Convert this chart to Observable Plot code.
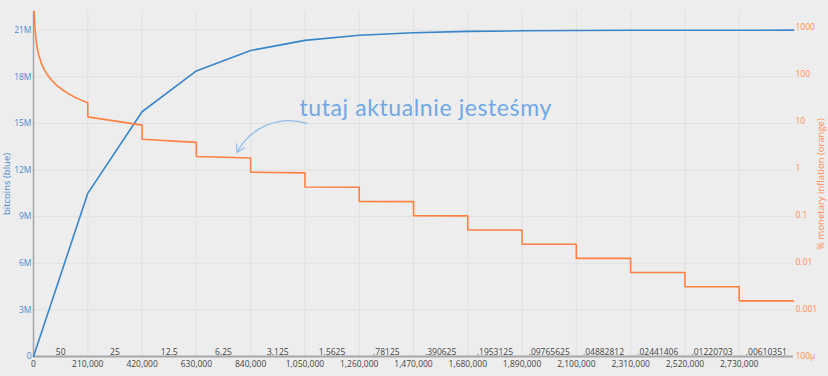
<!DOCTYPE html>
<html><head><meta charset="utf-8">
<script src="https://cdn.jsdelivr.net/npm/d3@7"></script>
<script src="https://cdn.jsdelivr.net/npm/@observablehq/plot@0.6"></script>
<style>
body{margin:0;background:#ededed;}
#wrap{position:relative;width:828px;height:376px;background:#ededed;}
#wrap svg{position:absolute;left:0;top:0;}
</style></head><body><div id="wrap"></div>
<script>
// block heights at each halving and cumulative bitcoin supply
const halvingHeights = [0,210000,420000,630000,840000,1050000,1260000,1470000,1680000,1890000,2100000,2310000,2520000,2730000,2940000];
const supply = [0,10500000,15750000,18375000,19687500,20343750,20671875,20835938,20917969,20958984,20979492,20989746,20994873,20997437,20998718];
// monetary inflation (%)
const inflHeight = [2400,5000,10000,15000,20000,30000,40000,55000,70000,90000,110000,135000,160000,185000,210000,
  210000,420000,420000,630000,630000,840000,840000,1050000,1050000,1260000,1260000,1470000,1470000,1680000,1680000,1890000,1890000,2100000,2100000,2310000,2310000,2520000,2520000,2730000,2730000,2940000];
const inflPct = [2190,1051,525.6,350.4,262.8,175.2,131.4,95.6,75.1,58.4,47.8,38.9,32.85,28.4,25.03,
  12.51,8.34,4.17,3.58,1.79,1.67,0.834,0.807,0.404,0.397,0.1986,0.1971,0.0985,0.0982,0.0491,0.049,0.02449,0.02447,0.01223,0.01223,0.006113,0.006112,0.003056,0.003056,0.001528,0.001528];
// block reward per era
const rewardLabels = ["50","25","12.5","6.25","3.125","1.5625",".78125",".390625",".1953125",".09765625",".04882812",".02441406",".01220703",".00610351"];
const xTicks = [0,210000,420000,630000,840000,1050000,1260000,1470000,1680000,1890000,2100000,2310000,2520000,2730000];
const leftTicks = [0,3e6,6e6,9e6,12e6,15e6,18e6,21e6];
const leftTickLabels = ["0","3M","6M","9M","12M","15M","18M","21M"];
const rightTicks = [1e-4,1e-3,1e-2,1e-1,1,10,100,1000];
const rightTickLabels = ["100µ","0.001","0.01","0.1","1","10","100","1000"];
// annotation
const noteText = ["tutaj aktualnie jesteśmy"];
const noteX = [1517000];
const noteY = [15.97e6];
const arrowX = [1057700, 787500];
const arrowY = [15.0e6, 13.13e6];

const W = 828, H = 376;
const margins = {marginLeft:33, marginRight:35, marginTop:11, marginBottom:20};
const BLUE = "#3885c9", ORANGE = "#ff8040";
const BLUE_TXT = "#4a8ad0", ORANGE_TXT = "#ff8a52";

const blueData = halvingHeights.map((h,i)=>({h, s: supply[i]}));
const orangeData = inflHeight.map((h,i)=>({h, p: inflPct[i]}));
const rewardData = rewardLabels.map((t,i)=>({t, x:(halvingHeights[i]+halvingHeights[i+1])/2}));

const p1 = Plot.plot({
  width: W, height: H, ...margins,
  style: {background:"transparent", fontFamily:"Open Sans", fontSize:"8.5px", color:"#444"},
  x: {domain:[0,2940000]},
  y: {domain:[0,22.2e6]},
  marks: [
    Plot.gridX(xTicks.slice(1), {stroke:"#e0e0e0", strokeOpacity:1, strokeWidth:1}),
    Plot.gridY(leftTicks.slice(1), {stroke:"#e0e0e0", strokeOpacity:1, strokeWidth:1}),
    Plot.axisX({ticks:xTicks, tickFormat:d3.format(","), tickSize:0, tickPadding:4, label:null, fill:"#444"}),
    Plot.axisY({ticks:leftTicks, tickFormat:(d)=>leftTickLabels[leftTicks.indexOf(d)], tickSize:0, tickPadding:2,
      label:"bitcoins (blue)", labelAnchor:"center", labelOffset:30, labelArrow:"none", fill:BLUE_TXT}),
    Plot.ruleX([0], {stroke:"#a6a6a6", strokeWidth:1.5}),
    Plot.ruleY([0], {stroke:"#a6a6a6", strokeWidth:2}),
    Plot.text(rewardData, {x:"x", y:()=>0, text:"t", lineAnchor:"bottom", dy:-2, fill:"#444", fontSize:8.5}),
    Plot.line(blueData, {x:"h", y:"s", stroke:BLUE, strokeWidth:1.6}),
    Plot.text(noteText, {x:()=>noteX[0], y:()=>noteY[0], text:(d)=>d, fontFamily:"Lato", fontSize:23, fill:"#6fa8e6"}),
    Plot.arrow([0], {x1:()=>arrowX[0], y1:()=>arrowY[0], x2:()=>arrowX[1], y2:()=>arrowY[1], bend:-40, stroke:"#92bde9", strokeWidth:1.3, headLength:10})
  ]
});

const p2 = Plot.plot({
  width: W, height: H, ...margins,
  style: {background:"transparent", fontFamily:"Open Sans", fontSize:"8.5px"},
  x: {domain:[0,2940000], axis:null},
  y: {type:"log", domain:[1e-4, 2180]},
  marks: [
    Plot.axisY({anchor:"right", ticks:rightTicks, tickFormat:(d)=>rightTickLabels[rightTicks.findIndex(t=>Math.abs(t-d)/t<1e-6)], tickSize:0, tickPadding:2,
      label:"% monetary inflation (orange)", labelAnchor:"center", labelOffset:30, labelArrow:"none", fill:ORANGE_TXT}),
    Plot.line(orangeData, {x:"h", y:"p", stroke:ORANGE, strokeWidth:1.6})
  ]
});

const wrap = document.getElementById("wrap");
wrap.appendChild(p1);
wrap.appendChild(p2);
// slightly larger axis titles, wider annotation lettering
for (const svg of [p1, p2]) {
  svg.querySelectorAll('g[aria-label="y-axis label"]').forEach(g => g.setAttribute("font-size", "9.5"));
}
p1.querySelectorAll('g[aria-label="text"] text').forEach(t => { if (t.textContent === noteText[0]) t.setAttribute("letter-spacing", "0.6"); });
</script></body></html>
